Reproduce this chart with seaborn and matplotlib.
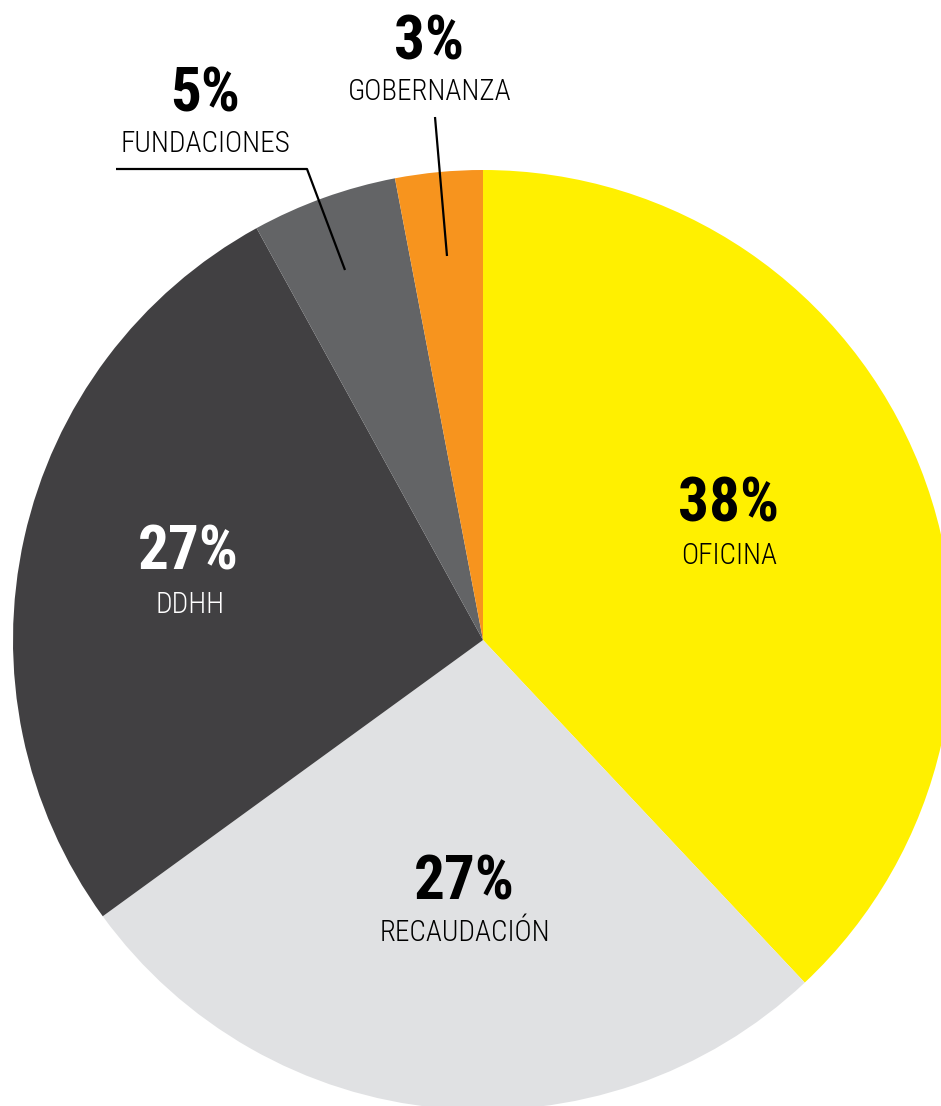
import matplotlib
matplotlib.use("Agg")
import matplotlib.pyplot as plt
import seaborn as sns

categories = ["OFICINA", "RECAUDACIÓN", "DDHH", "FUNDACIONES", "GOBERNANZA"]
values = [38, 27, 27, 5, 3]
pct_labels = ["38%", "27%", "27%", "5%", "3%"]
colors = ["#FFF000", "#E0E1E3", "#414042", "#636466", "#F7941E"]
text_colors = ["black", "black", "white", "black", "black"]

sns.set_theme(style="white")
FONT = ["Roboto Condensed", "DejaVu Sans"]
plt.rcParams["font.family"] = FONT

W, H = 941, 1106
cx, cy, R = 483, 640, 470
fig = plt.figure(figsize=(W / 100, H / 100), dpi=100)
ax = fig.add_axes([0, 0, 1, 1])

ax.pie(values, colors=colors, startangle=90, counterclock=False, radius=1,
       wedgeprops=dict(linewidth=0))
ax.set_xlim(-cx / R, (W - cx) / R)
ax.set_ylim(-(H - cy) / R, cy / R)
ax.set_aspect("equal", adjustable="datalim")
ax.axis("off")

def d(px, py):
    return ((px - cx) / R, (cy - py) / R)

pct_pos = [(728, 505), (464, 882), (188, 553), (205, 95), (429, 42)]
cat_pos = [(729, 556), (465, 933), (190, 605), (205, 144), (430, 92)]

for i in range(len(categories)):
    x, y = d(*pct_pos[i])
    ax.text(x, y, pct_labels[i], ha="center", va="center", fontsize=44,
            fontweight="bold", color=text_colors[i], family=FONT)
    x, y = d(*cat_pos[i])
    ax.text(x, y, categories[i], ha="center", va="center", fontsize=21,
            fontweight="light", color=text_colors[i], family=FONT)

fx, fy = zip(d(116, 169), d(307, 169), d(345, 270))
ax.plot(fx, fy, color="black", lw=1.6, solid_capstyle="butt")
gx, gy = zip(d(435, 117), d(447, 256))
ax.plot(gx, gy, color="black", lw=1.6, solid_capstyle="butt")

fig.savefig("out.png", dpi=100, facecolor="white")
